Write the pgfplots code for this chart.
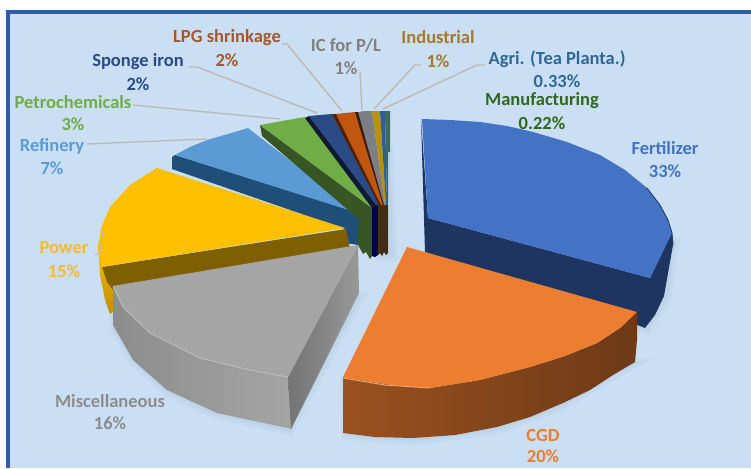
\documentclass[border=0pt]{standalone}
\usepackage{fontspec}
\setmainfont{Carlito}
\usepackage{pgfplots}
\pgfplotsset{compat=1.18}

\definecolor{panel}{HTML}{CADFF3}
\definecolor{frame}{HTML}{2F5DA8}
\definecolor{leader}{HTML}{BDB9B2}
\definecolor{shadow}{HTML}{4F6F90}
\definecolor{fert}{HTML}{4472C4}
\definecolor{fertwall}{HTML}{1E3461}
\definecolor{cgd}{HTML}{ED7D31}
\definecolor{misc}{HTML}{A5A5A5}
\definecolor{power}{HTML}{FFC000}
\definecolor{powerwall}{HTML}{7F6000}
\definecolor{refin}{HTML}{5B9BD5}
\definecolor{refinwall}{HTML}{1F4E79}
\definecolor{petro}{HTML}{70AD47}
\definecolor{petrowall}{HTML}{375623}
\definecolor{sponge}{HTML}{2A4B85}
\definecolor{lpg}{HTML}{C0560F}
\definecolor{icpl}{HTML}{7C8084}
\definecolor{indus}{HTML}{B8920A}
\definecolor{agri}{HTML}{2F5F9A}
\definecolor{manuf}{HTML}{3E6B5C}
\definecolor{powertxt}{HTML}{FDB92F}
\definecolor{industxt}{HTML}{A5782A}
\definecolor{agritxt}{HTML}{2F6797}
\definecolor{lpgtxt}{HTML}{A9572A}

\pgfplotsset{
  face/.style={fill=#1,draw=none},
  lead/.style={draw=leader,line width=1.4pt},
}
\newcommand{\lab}[4]{%
  \node[text=#1,inner sep=0pt,font=\fontsize{18.5}{20}\selectfont\bfseries] at (axis cs:#2,#3) {#4};}

\begin{document}
\begin{tikzpicture}
\begin{axis}[
    scale only axis,
    width=751pt,
    height=468pt,
    xmin=0, xmax=751,
    ymin=0, ymax=468,
    y dir=reverse,
    hide axis,
]
% panel
\addplot[face=white] coordinates {(0,0) (751,0) (751,468) (0,468)} -- cycle;
\addplot[face=frame] coordinates {(6,10) (751,10) (751,468) (6,468)} -- cycle;
\addplot[face=panel] coordinates {(10,14) (751,14) (751,468) (10,468)} -- cycle;

% soft shadows
\addplot[fill=shadow,draw=shadow,line width=7pt,opacity=0.05] coordinates {(345,436) (413,442) (497,431) (563,407) (613,377) (640,362) (343,380)} -- cycle;
\addplot[fill=shadow,draw=shadow,line width=7pt,opacity=0.05] coordinates {(113,328) (133,363) (167,393) (217,416) (290,432) (362,296) (113,290)} -- cycle;
\addplot[fill=shadow,draw=shadow,line width=7pt,opacity=0.05] coordinates {(390,150) (394,258) (380,258) (380,150)} -- cycle;
\addplot[fill=shadow,draw=shadow,line width=7pt,opacity=0.05] coordinates {(676,240) (668,298) (648,331) (600,320) (600,240)} -- cycle;

% leader lines
\addplot[lead] coordinates {(87,144) (207,139)};
\addplot[lead] coordinates {(133,105) (280,119)};
\addplot[lead] coordinates {(189,67) (197,67) (317,113)};
\addplot[lead] coordinates {(282,44) (287,44) (342,111)};
\addplot[lead] coordinates {(360,72) (362,110)};
\addplot[lead] coordinates {(421,65) (415,65) (374,109)};
\addplot[lead] coordinates {(485,65) (477,65) (383,109)};

% Fertilizer
\addplot[face=fertwall] coordinates {(421,119) (428,218) (650,278) (672,232) (673,245) (670,262) (664,296) (655,315) (645,328) (630,322) (425,252)} -- cycle;
\addplot[face=fert] coordinates {(422,119) (450,120) (480,122) (507,126) (533,132) (567,142) (600,155) (625,170) (647,188) (660,205) (668,220) (672,233) (650,278) (428,218)} -- cycle;
\addplot[draw=fertwall,line width=0.8pt] coordinates {(647,188) (660,205) (668,220) (672,233) (673,245)};

% CGD
\addplot[draw=none,left color=cgd!65!black,middle color=cgd!42!black,right color=cgd!46!black] coordinates {(343,377) (385,384) (430,388) (480,380) (530,367) (565,356) (597,343) (620,328) (637,312) (637,340) (635,362) (613,375) (590,390) (563,403) (530,417) (497,427) (455,435) (413,438) (375,437) (343,433)} -- cycle;
\addplot[face=cgd] coordinates {(407,247) (637,312) (620,328) (597,343) (565,356) (530,367) (480,380) (430,388) (385,384) (343,377)} -- cycle;
\addplot[draw=cgd!70!white,line width=1pt] coordinates {(343,378) (385,385) (430,388)};

% centre block below the small slices
\addplot[face=refinwall] coordinates {(346,228) (358,220) (360,240) (358,245) (346,243)} -- cycle;
\addplot[face=petrowall] coordinates {(358,215) (372,205) (372,256) (370,259) (366,252) (363,254) (358,245)} -- cycle;
\addplot[fill=black!70!blue,draw=none] coordinates {(372,205) (378,205) (378,255) (375,257) (372,256)} -- cycle;
\addplot[fill=black!65!brown,draw=none] coordinates {(378,205) (388,205) (388,253) (386,255) (384,252) (382,256) (380,253) (378,255)} -- cycle;

% Refinery
\addplot[face=refinwall] coordinates {(172,157) (175,155) (360,213) (358,229) (345,229) (172,169)} -- cycle;
\addplot[face=refin] coordinates {(175,155) (190,147) (207,140) (228,134) (248,128) (358,213)} -- cycle;

% Power
\addplot[draw=none,top color=power,bottom color=power!75!black] coordinates {(98,240) (102,267) (113,282) (113,312) (110,314) (105,300) (100,275)} -- cycle;
\addplot[face=powerwall] coordinates {(102,267) (346,229) (350,248) (113,290) (107,282)} -- cycle;
\addplot[face=power] coordinates {(157,168) (130,185) (110,207) (101,228) (98,250) (102,267) (345,228)} -- cycle;
\addplot[draw=leader,line width=0.9pt] coordinates {(103,230) (100,253) (95,255)};

% Miscellaneous
\addplot[draw=none,left color=misc!85!black,middle color=misc!78!black,right color=misc] coordinates {(113,286) (123,307) (150,333) (200,358) (250,370) (288,377) (292,429) (217,413) (167,390) (133,360) (113,325)} -- cycle;
\addplot[draw=none,left color=misc!70!black,right color=misc!92!black] coordinates {(288,377) (358,245) (359,293) (291,429)} -- cycle;
\addplot[face=misc] coordinates {(358,245) (288,377) (250,370) (200,358) (150,333) (123,307) (113,286)} -- cycle;
\addplot[draw=black!27,line width=1pt] coordinates {(113,286) (123,307) (150,333) (200,358) (250,370) (288,377)};

% Petrochemicals
\addplot[face=petrowall] coordinates {(260,125) (262,136) (362,222) (372,212) (372,208)} -- cycle;
\addplot[face=petro] coordinates {(260,125) (282,121) (305,117) (372,208)} -- cycle;

% Sponge iron
\addplot[fill=sponge!35!black,draw=none] coordinates {(305,118) (309,116) (378,205) (372,208)} -- cycle;
\addplot[face=sponge] coordinates {(309,116) (320,115) (332,114) (380,205) (376,205)} -- cycle;

% LPG shrinkage
\addplot[fill=lpg!40!black,draw=none] coordinates {(332,114) (337,114) (383,205) (379,205)} -- cycle;
\addplot[face=lpg] coordinates {(336,114) (345,113) (355,112) (384,205) (381,205)} -- cycle;

% IC for P/L, Industrial, Agri, Manufacturing
\addplot[fill=lpg!30!black,draw=none] coordinates {(355,112) (359,112) (385,205) (383,205)} -- cycle;
\addplot[face=icpl] coordinates {(358,112) (365,111) (372,111) (385,205) (384,205)} -- cycle;
\addplot[face=indus] coordinates {(372,111) (380,111) (386,205) (385,205)} -- cycle;
\addplot[face=agri] coordinates {(380,111) (385,111) (387,205) (386,205)} -- cycle;
\addplot[face=manuf] coordinates {(385,111) (390,111) (390,152) (388,152) (388,205) (387,205)} -- cycle;

% labels
\lab{fert}{665}{148}{Fertilizer}
\lab{fert}{665}{171}{33\%}
\lab{cgd}{543}{435}{CGD}
\lab{cgd}{543}{456}{20\%}
\lab{black!45}{110}{401}{Miscellaneous}
\lab{black!45}{110}{423}{16\%}
\lab{powertxt}{64}{248}{Power}
\lab{powertxt}{64}{271}{15\%}
\lab{refin}{52}{146}{Refinery}
\lab{refin}{52}{168}{7\%}
\lab{petro}{73}{102}{Petrochemicals}
\lab{petro}{73}{124}{3\%}
\lab{sponge}{138}{62}{Sponge iron}
\lab{sponge}{138}{84}{2\%}
\lab{lpgtxt}{227}{38}{LPG shrinkage}
\lab{lpgtxt}{227}{60}{2\%}
\lab{black!50}{346}{45}{IC for P/L}
\lab{black!50}{346}{68}{1\%}
\lab{industxt}{438}{37}{Industrial}
\lab{industxt}{438}{61}{1\%}
\lab{agritxt}{557}{59}{Agri. (Tea Planta.)}
\lab{agritxt}{557}{81}{0.33\%}
\lab{petrowall!90!green}{542}{101}{Manufacturing}
\lab{petrowall!90!green}{542}{123}{0.22\%}
\end{axis}
\end{tikzpicture}
\end{document}
